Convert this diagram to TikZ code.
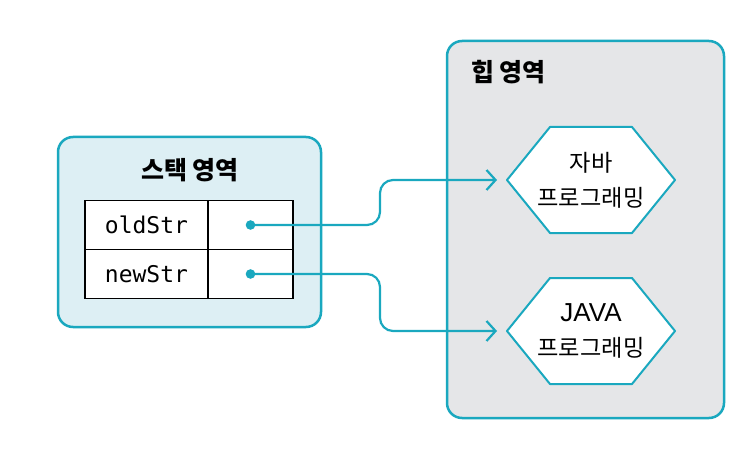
\documentclass[tikz,border=0pt]{standalone}
\usepackage{fontspec}
\setmainfont{Noto Sans CJK KR}
\setmonofont{DejaVu Sans Mono}
\newfontfamily\arialfont{Liberation Sans}
\usetikzlibrary{arrows.meta,positioning}

\definecolor{memteal}{HTML}{1AA8BF}
\definecolor{stackfill}{HTML}{DDEFF4}
\definecolor{heapfill}{HTML}{E5E6E8}

\begin{document}
\begin{tikzpicture}[x=0.5pt,y=-0.5pt,
    area/.style={draw=memteal, line width=1.25pt, rounded corners=7.5pt},
    title/.style={font=\fontsize{12.5}{14}\selectfont\bfseries},
    cell/.style={draw=black, fill=white, line width=0.9pt, minimum height=24.5pt, inner sep=0pt,
        outer sep=0pt, font=\ttfamily\fontsize{11.5}{13}\selectfont},
    value/.style={minimum width=84pt, minimum height=53pt, inner sep=0pt, outer sep=0pt,
        align=center, font=\fontsize{11.6}{17.5}\selectfont},
    hexline/.style={draw=memteal, fill=white, line width=1pt, line join=round},
    ref/.style={draw=memteal, line width=1.1pt, rounded corners=6.5pt, shorten >=5pt,
        -{Straight Barb[length=4.5pt,width=10pt,line width=1.1pt]}}]
    \useasboundingbox (0,0) rectangle (750,449);

    % stack and heap areas
    \draw[area, fill=stackfill] (58,137) rectangle (321,327);
    \node[title] (stacktitle) at (190,170) {스택 영역};
    \draw[area, fill=heapfill] (447,41) rectangle (724,418);
    \node[title, anchor=west] (heaptitle) at (464,72) {힙 영역};

    % variable table
    \node[cell, minimum width=61.5pt] (old) at (146.5,225) {oldStr};
    \node[cell, minimum width=42.5pt, right=0pt of old] (oldv) {};
    \node[cell, minimum width=61.5pt, below=0pt of old] (new) {newStr};
    \node[cell, minimum width=42.5pt, right=0pt of new] (newv) {};

    % string objects
    \coordinate (str1) at (591,180);
    \coordinate (str2) at (591,331);
    \foreach \s in {str1,str2}
        \draw[hexline] ([xshift=-42pt]\s) -- ([xshift=-20.5pt,yshift=26.5pt]\s)
            -- ([xshift=20.5pt,yshift=26.5pt]\s) -- ([xshift=42pt]\s)
            -- ([xshift=20.5pt,yshift=-26.5pt]\s) -- ([xshift=-20.5pt,yshift=-26.5pt]\s) -- cycle;
    \node[value] (str1) at (591,180) {자바\\프로그래밍};
    \node[value] (str2) at (591,331) {{\arialfont\fontsize{13}{15}\selectfont JAVA}\\프로그래밍};

    % references
    \coordinate (bend) at (380,0);
    \fill[memteal] (oldv.center) circle (2.4pt);
    \fill[memteal] (newv.center) circle (2.4pt);
    \draw[ref] (oldv.center) -| (bend |- str1.west) -- (str1.west);
    \draw[ref] (newv.center) -| (bend |- str2.west) -- (str2.west);
\end{tikzpicture}
\end{document}
